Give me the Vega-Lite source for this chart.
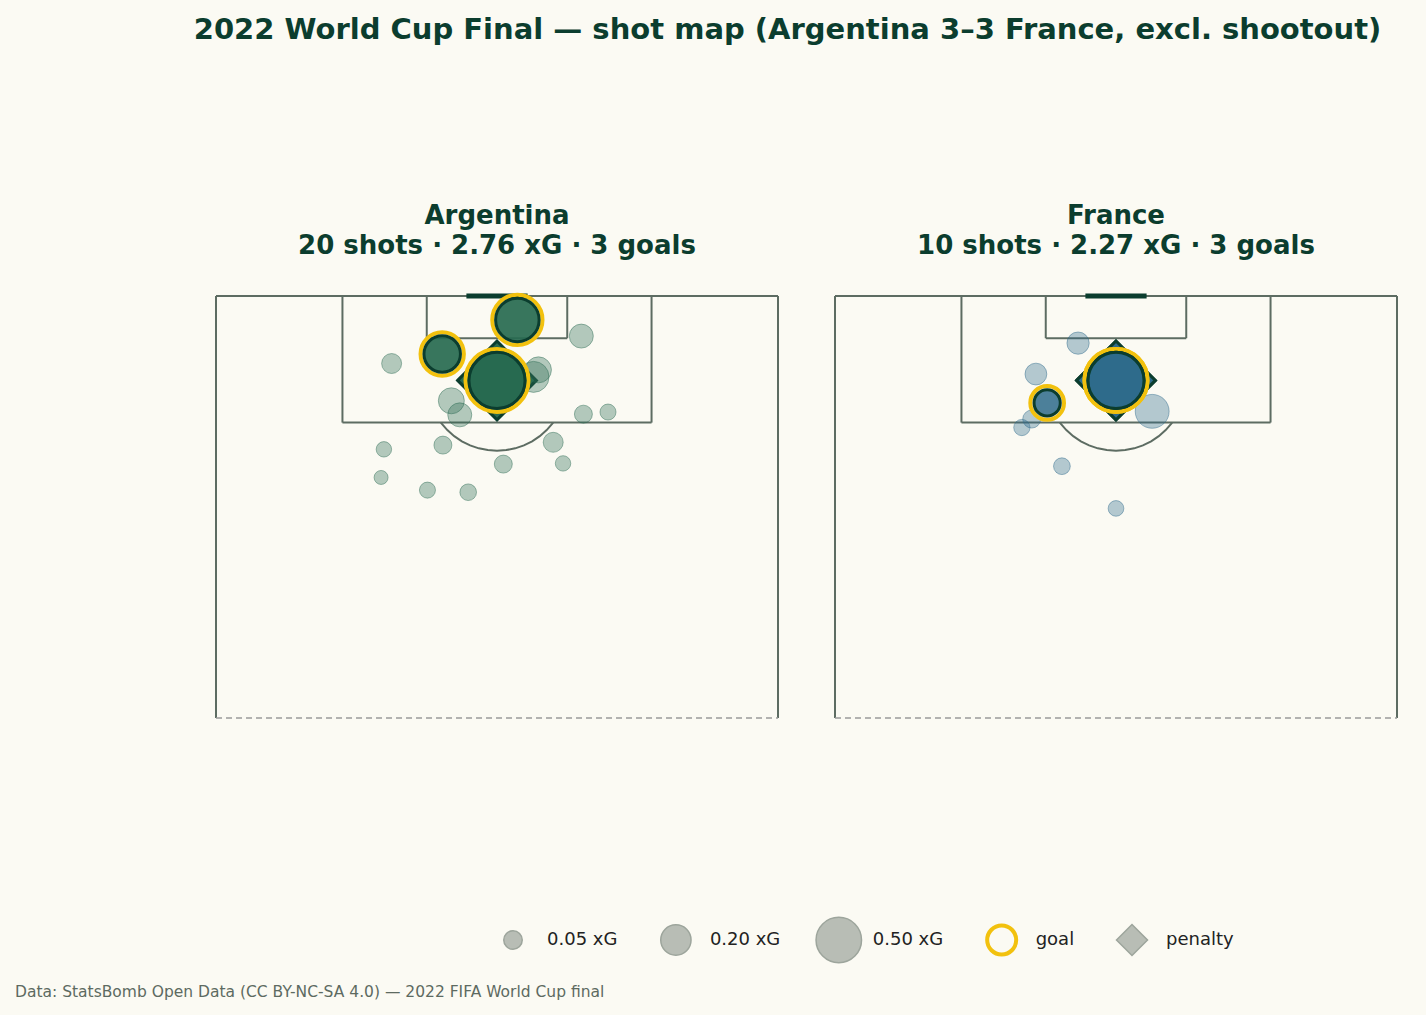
{
  "$schema": "https://vega.github.io/schema/vega-lite/v6.json",
  "background": "#fbfaf3",
  "padding": {"left": 15, "top": 15, "right": 29, "bottom": 20},
  "config": {
    "view": {"stroke": null},
    "font": "DejaVu Sans",
    "title": {"font": "DejaVu Sans"},
    "text": {"font": "DejaVu Sans"}
  },
  "title": {
    "text": "2022 World Cup Final — shot map (Argentina 3–3 France, excl. shootout)",
    "fontSize": 29,
    "fontWeight": "bold",
    "color": "#0b3d2e",
    "anchor": "middle",
    "dx": 81,
    "offset": 158
  },
  "datasets": {
    "shots": [
      {"team": "Argentina", "x": 108.0, "y": 40.0, "xg": 0.78, "goal": true, "penalty": true},
      {"team": "Argentina", "x": 116.6, "y": 42.9, "xg": 0.454, "goal": true, "penalty": false},
      {"team": "Argentina", "x": 111.75, "y": 32.2, "xg": 0.308, "goal": true, "penalty": false},
      {"team": "Argentina", "x": 114.3, "y": 52.0, "xg": 0.111, "goal": false, "penalty": false},
      {"team": "Argentina", "x": 110.4, "y": 25.0, "xg": 0.065, "goal": false, "penalty": false},
      {"team": "Argentina", "x": 110.6, "y": 41.6, "xg": 0.099, "goal": false, "penalty": false},
      {"team": "Argentina", "x": 109.5, "y": 45.9, "xg": 0.137, "goal": false, "penalty": false},
      {"team": "Argentina", "x": 108.5, "y": 45.2, "xg": 0.211, "goal": false, "penalty": false},
      {"team": "Argentina", "x": 105.1, "y": 33.5, "xg": 0.137, "goal": false, "penalty": false},
      {"team": "Argentina", "x": 103.1, "y": 34.7, "xg": 0.111, "goal": false, "penalty": false},
      {"team": "Argentina", "x": 103.2, "y": 52.3, "xg": 0.045, "goal": false, "penalty": false},
      {"team": "Argentina", "x": 103.5, "y": 55.8, "xg": 0.028, "goal": false, "penalty": false},
      {"team": "Argentina", "x": 98.2, "y": 23.9, "xg": 0.023, "goal": false, "penalty": false},
      {"team": "Argentina", "x": 98.8, "y": 32.3, "xg": 0.045, "goal": false, "penalty": false},
      {"team": "Argentina", "x": 99.2, "y": 48.0, "xg": 0.065, "goal": false, "penalty": false},
      {"team": "Argentina", "x": 96.1, "y": 40.9, "xg": 0.045, "goal": false, "penalty": false},
      {"team": "Argentina", "x": 96.2, "y": 49.4, "xg": 0.023, "goal": false, "penalty": false},
      {"team": "Argentina", "x": 94.2, "y": 23.5, "xg": 0.012, "goal": false, "penalty": false},
      {"team": "Argentina", "x": 92.4, "y": 30.1, "xg": 0.028, "goal": false, "penalty": false},
      {"team": "Argentina", "x": 92.1, "y": 35.9, "xg": 0.033, "goal": false, "penalty": false},
      {"team": "France", "x": 108.0, "y": 40.0, "xg": 0.78, "goal": true, "penalty": true},
      {"team": "France", "x": 108.0, "y": 40.0, "xg": 0.78, "goal": true, "penalty": true},
      {"team": "France", "x": 104.8, "y": 30.2, "xg": 0.14, "goal": true, "penalty": false},
      {"team": "France", "x": 113.3, "y": 34.6, "xg": 0.09, "goal": false, "penalty": false},
      {"team": "France", "x": 108.9, "y": 28.6, "xg": 0.085, "goal": false, "penalty": false},
      {"team": "France", "x": 103.6, "y": 45.15, "xg": 0.26, "goal": false, "penalty": false},
      {"team": "France", "x": 102.5, "y": 28.0, "xg": 0.045, "goal": false, "penalty": false},
      {"team": "France", "x": 101.3, "y": 26.6, "xg": 0.03, "goal": false, "penalty": false},
      {"team": "France", "x": 95.8, "y": 32.3, "xg": 0.034, "goal": false, "penalty": false},
      {"team": "France", "x": 89.8, "y": 40.0, "xg": 0.025, "goal": false, "penalty": false}
    ],
    "pitch": [
      {"x1": 60, "x2": 120, "y1": 0, "y2": 0},
      {"x1": 60, "x2": 120, "y1": 80, "y2": 80},
      {"x1": 120, "x2": 120, "y1": 0, "y2": 80},
      {"x1": 102, "x2": 120, "y1": 18, "y2": 18},
      {"x1": 102, "x2": 120, "y1": 62, "y2": 62},
      {"x1": 102, "x2": 102, "y1": 18, "y2": 62},
      {"x1": 114, "x2": 120, "y1": 30, "y2": 30},
      {"x1": 114, "x2": 120, "y1": 50, "y2": 50},
      {"x1": 114, "x2": 114, "y1": 30, "y2": 50}
    ],
    "halfway": [{"x1": 60, "x2": 60, "y1": 0, "y2": 80}],
    "goalmouth": [{"x1": 120, "x2": 120, "y1": 36, "y2": 44}],
    "spot": [{"x": 108, "y": 40}],
    "arc": [
      {"x": 102.0, "y": 32.0},
      {"x": 100.93, "y": 32.93},
      {"x": 100.07, "y": 33.91},
      {"x": 99.34, "y": 35.0},
      {"x": 98.76, "y": 36.17},
      {"x": 98.34, "y": 37.41},
      {"x": 98.09, "y": 38.69},
      {"x": 98.0, "y": 40.0},
      {"x": 98.09, "y": 41.31},
      {"x": 98.34, "y": 42.59},
      {"x": 98.76, "y": 43.83},
      {"x": 99.34, "y": 45.0},
      {"x": 100.07, "y": 46.09},
      {"x": 100.93, "y": 47.07},
      {"x": 102.0, "y": 48.0}
    ],
    "legend": [
      {"label": "0.05 xG", "kind": "size", "xg": 0.05},
      {"label": "0.20 xG", "kind": "size", "xg": 0.2},
      {"label": "0.50 xG", "kind": "size", "xg": 0.5},
      {"label": "goal", "kind": "goal", "xg": null},
      {"label": "penalty", "kind": "penalty", "xg": null}
    ]
  },
  "bounds": "flush",
  "spacing": 624,
  "vconcat": [
    {
      "bounds": "flush",
      "spacing": 57,
      "hconcat": [
        {
          "width": 562,
          "height": 422,
          "title": {"text": ["Argentina", "20 shots · 2.76 xG · 3 goals"], "fontSize": 26, "fontWeight": "bold", "color": "#0b3d2e", "lineHeight": 30, "offset": 28, "anchor": "middle"},
          "resolve": {"scale": {"size": "independent"}},
          "layer": [
            {
              "data": {"name": "pitch"},
              "mark": {"type": "rule", "color": "#5d6c62", "strokeWidth": 2},
              "encoding": {
                "x": {"field": "y1", "type": "quantitative", "scale": {"domain": [0, 80], "nice": false, "zero": false}, "axis": null},
                "x2": {"field": "y2"},
                "y": {"field": "x1", "type": "quantitative", "scale": {"domain": [60, 120], "nice": false, "zero": false}, "axis": null},
                "y2": {"field": "x2"}
              }
            },
            {
              "data": {"name": "halfway"},
              "mark": {"type": "rule", "color": "#9a9a9a", "strokeWidth": 1.6, "strokeDash": [6, 4]},
              "encoding": {"x": {"field": "y1", "type": "quantitative"}, "x2": {"field": "y2"}, "y": {"field": "x1", "type": "quantitative"}, "y2": {"field": "x2"}}
            },
            {
              "data": {"name": "arc"},
              "mark": {"type": "line", "color": "#5d6c62", "strokeWidth": 2},
              "encoding": {"x": {"field": "y", "type": "quantitative"}, "y": {"field": "x", "type": "quantitative"}}
            },
            {
              "data": {"name": "spot"},
              "mark": {"type": "circle", "color": "#0b3d2e", "size": 40, "opacity": 1},
              "encoding": {"x": {"field": "y", "type": "quantitative"}, "y": {"field": "x", "type": "quantitative"}}
            },
            {
              "data": {"name": "goalmouth"},
              "mark": {"type": "rule", "color": "#0b3d2e", "strokeWidth": 5, "strokeCap": "square"},
              "encoding": {"x": {"field": "y1", "type": "quantitative"}, "x2": {"field": "y2"}, "y": {"field": "x1", "type": "quantitative"}, "y2": {"field": "x2"}}
            },
            {
              "data": {"name": "shots"},
              "transform": [{"filter": "datum.team === 'Argentina' && datum.penalty"}],
              "mark": {"type": "point", "shape": "diamond", "filled": true, "fill": "#2a6b52", "stroke": "#0b3d2e", "strokeWidth": 3, "size": 6200, "opacity": 1},
              "encoding": {"x": {"field": "y", "type": "quantitative"}, "y": {"field": "x", "type": "quantitative"}}
            },
            {
              "data": {"name": "shots"},
              "transform": [{"filter": "datum.team === 'Argentina' && !datum.goal"}],
              "mark": {"type": "circle", "fill": "#2a6b52", "fillOpacity": 0.35, "stroke": "#2a6b52", "strokeOpacity": 0.45, "strokeWidth": 1, "opacity": 1},
              "encoding": {
                "x": {"field": "y", "type": "quantitative"},
                "y": {"field": "x", "type": "quantitative"},
                "size": {"field": "xg", "type": "quantitative", "scale": {"type": "linear", "domain": [0, 1], "range": [150, 3990], "zero": false}, "legend": null}
              }
            },
            {
              "data": {"name": "shots"},
              "transform": [{"filter": "datum.team === 'Argentina' && datum.goal"}],
              "mark": {"type": "point", "shape": "circle", "filled": false, "stroke": "#f2c10e", "strokeWidth": 4, "opacity": 1},
              "encoding": {
                "x": {"field": "y", "type": "quantitative"},
                "y": {"field": "x", "type": "quantitative"},
                "size": {"field": "xg", "type": "quantitative", "scale": {"type": "linear", "domain": [0, 1], "range": [516, 4943], "zero": false}, "legend": null}
              }
            },
            {
              "data": {"name": "shots"},
              "transform": [{"filter": "datum.team === 'Argentina' && datum.goal"}],
              "mark": {"type": "circle", "fill": "#276a50", "fillOpacity": 0.92, "stroke": "#0b3d2e", "strokeWidth": 3, "strokeOpacity": 1, "opacity": 1},
              "encoding": {
                "x": {"field": "y", "type": "quantitative"},
                "y": {"field": "x", "type": "quantitative"},
                "size": {"field": "xg", "type": "quantitative", "scale": {"type": "linear", "domain": [0, 1], "range": [150, 3990], "zero": false}, "legend": null}
              }
            }
          ]
        },
        {
          "width": 562,
          "height": 422,
          "title": {"text": ["France", "10 shots · 2.27 xG · 3 goals"], "fontSize": 26, "fontWeight": "bold", "color": "#0b3d2e", "lineHeight": 30, "offset": 33, "anchor": "middle"},
          "resolve": {"scale": {"size": "independent"}},
          "layer": [
            {
              "data": {"name": "pitch"},
              "mark": {"type": "rule", "color": "#5d6c62", "strokeWidth": 2},
              "encoding": {
                "x": {"field": "y1", "type": "quantitative", "scale": {"domain": [0, 80], "nice": false, "zero": false}, "axis": null},
                "x2": {"field": "y2"},
                "y": {"field": "x1", "type": "quantitative", "scale": {"domain": [60, 120], "nice": false, "zero": false}, "axis": null},
                "y2": {"field": "x2"}
              }
            },
            {
              "data": {"name": "halfway"},
              "mark": {"type": "rule", "color": "#9a9a9a", "strokeWidth": 1.6, "strokeDash": [6, 4]},
              "encoding": {"x": {"field": "y1", "type": "quantitative"}, "x2": {"field": "y2"}, "y": {"field": "x1", "type": "quantitative"}, "y2": {"field": "x2"}}
            },
            {
              "data": {"name": "arc"},
              "mark": {"type": "line", "color": "#5d6c62", "strokeWidth": 2},
              "encoding": {"x": {"field": "y", "type": "quantitative"}, "y": {"field": "x", "type": "quantitative"}}
            },
            {
              "data": {"name": "spot"},
              "mark": {"type": "circle", "color": "#0b3d2e", "size": 40, "opacity": 1},
              "encoding": {"x": {"field": "y", "type": "quantitative"}, "y": {"field": "x", "type": "quantitative"}}
            },
            {
              "data": {"name": "goalmouth"},
              "mark": {"type": "rule", "color": "#0b3d2e", "strokeWidth": 5, "strokeCap": "square"},
              "encoding": {"x": {"field": "y1", "type": "quantitative"}, "x2": {"field": "y2"}, "y": {"field": "x1", "type": "quantitative"}, "y2": {"field": "x2"}}
            },
            {
              "data": {"name": "shots"},
              "transform": [{"filter": "datum.team === 'France' && datum.penalty"}],
              "mark": {"type": "point", "shape": "diamond", "filled": true, "fill": "#2e6b8b", "stroke": "#0b3d2e", "strokeWidth": 3, "size": 6200, "opacity": 1},
              "encoding": {"x": {"field": "y", "type": "quantitative"}, "y": {"field": "x", "type": "quantitative"}}
            },
            {
              "data": {"name": "shots"},
              "transform": [{"filter": "datum.team === 'France' && !datum.goal"}],
              "mark": {"type": "circle", "fill": "#2e6b8b", "fillOpacity": 0.35, "stroke": "#2e6b8b", "strokeOpacity": 0.45, "strokeWidth": 1, "opacity": 1},
              "encoding": {
                "x": {"field": "y", "type": "quantitative"},
                "y": {"field": "x", "type": "quantitative"},
                "size": {"field": "xg", "type": "quantitative", "scale": {"type": "linear", "domain": [0, 1], "range": [150, 3990], "zero": false}, "legend": null}
              }
            },
            {
              "data": {"name": "shots"},
              "transform": [{"filter": "datum.team === 'France' && datum.goal"}],
              "mark": {"type": "point", "shape": "circle", "filled": false, "stroke": "#f2c10e", "strokeWidth": 4, "opacity": 1},
              "encoding": {
                "x": {"field": "y", "type": "quantitative"},
                "y": {"field": "x", "type": "quantitative"},
                "size": {"field": "xg", "type": "quantitative", "scale": {"type": "linear", "domain": [0, 1], "range": [516, 4943], "zero": false}, "legend": null}
              }
            },
            {
              "data": {"name": "shots"},
              "transform": [{"filter": "datum.team === 'France' && datum.goal"}],
              "mark": {"type": "circle", "fill": "#2e6b8b", "fillOpacity": 0.86, "stroke": "#0b3d2e", "strokeWidth": 3, "strokeOpacity": 1, "opacity": 1},
              "encoding": {
                "x": {"field": "y", "type": "quantitative"},
                "y": {"field": "x", "type": "quantitative"},
                "size": {"field": "xg", "type": "quantitative", "scale": {"type": "linear", "domain": [0, 1], "range": [150, 3990], "zero": false}, "legend": null}
              }
            }
          ]
        }
      ]
    },
    {
      "width": 1181,
      "height": 40,
      "data": {"name": "legend"},
      "title": {"text": "Data: StatsBomb Open Data (CC BY-NC-SA 4.0) — 2022 FIFA World Cup final", "orient": "bottom", "anchor": "start", "dx": -201, "fontSize": 15.5, "fontWeight": "normal", "color": "#5d6a61", "offset": 19},
      "encoding": {
        "x": {
          "field": "label",
          "type": "nominal",
          "sort": null,
          "scale": {
            "type": "point",
            "domain": ["0.05 xG", "s1", "s2", "s3", "s4", "0.20 xG", "s6", "s7", "s8", "s9", "0.50 xG", "s11", "s12", "s13", "s14", "goal", "s16", "s17", "s18", "penalty"],
            "range": [297, 916],
            "padding": 0
          },
          "axis": null
        }
      },
      "resolve": {"scale": {"size": "independent"}},
      "layer": [
        {
          "transform": [{"filter": "datum.kind === 'size'"}],
          "mark": {"type": "circle", "fill": "#b8bdb5", "fillOpacity": 1, "stroke": "#9da59c", "strokeWidth": 1.5, "opacity": 1},
          "encoding": {"size": {"field": "xg", "type": "quantitative", "scale": {"type": "linear", "domain": [0, 1], "range": [150, 3990], "zero": false}, "legend": null}}
        },
        {
          "transform": [{"filter": "datum.kind === 'goal'"}],
          "mark": {"type": "point", "shape": "circle", "filled": false, "stroke": "#f2c10e", "strokeWidth": 4, "size": 841, "opacity": 1}
        },
        {
          "transform": [{"filter": "datum.kind === 'penalty'"}],
          "mark": {"type": "point", "shape": "diamond", "filled": true, "fill": "#b8bdb5", "stroke": "#9da59c", "strokeWidth": 1.5, "size": 961, "opacity": 1}
        },
        {
          "mark": {"type": "text", "align": "left", "baseline": "middle", "dx": 34, "fontSize": 18, "color": "#222222"},
          "encoding": {"text": {"field": "label"}}
        }
      ]
    }
  ]
}
